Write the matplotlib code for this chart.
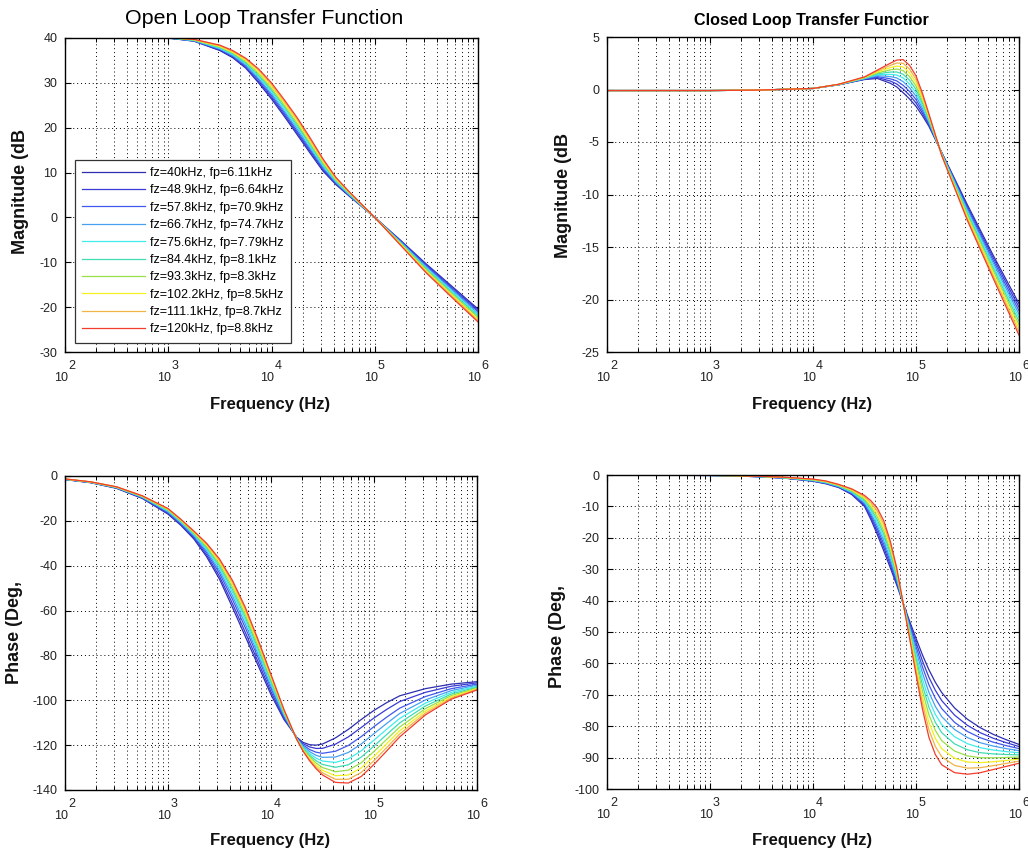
import numpy as np
import matplotlib.pyplot as plt
from matplotlib.ticker import LogLocator, NullFormatter

plt.rcParams['font.family'] = ['Liberation Sans', 'DejaVu Sans']
plt.rcParams['axes.unicode_minus'] = False

legend_labels = [
    "fz=40kHz, fp=6.11kHz",
    "fz=48.9kHz, fp=6.64kHz",
    "fz=57.8kHz, fp=70.9kHz",
    "fz=66.7kHz, fp=74.7kHz",
    "fz=75.6kHz, fp=7.79kHz",
    "fz=84.4kHz, fp=8.1kHz",
    "fz=93.3kHz, fp=8.3kHz",
    "fz=102.2kHz, fp=8.5kHz",
    "fz=111.1kHz, fp=8.7kHz",
    "fz=120kHz, fp=8.8kHz",
]
curve_colors = ['#2e2eb0', '#3a3ad6', '#4058ee', '#48a0f2', '#40ecec',
                '#40dcb4', '#98e048', '#f2f020', '#f0b448', '#f23c2c']

# open loop magnitude (dB), one row per frequency (log10 Hz), one column per curve
ol_mag_logf = [2.0, 2.5, 3.0, 3.25, 3.5, 3.625, 3.75, 3.875, 4.0, 4.125, 4.25,
               4.375, 4.5, 4.625, 4.75, 4.875, 5.0, 5.25, 5.5, 5.75, 6.0]
ol_mag = [
    [40.3, 40.3, 40.3, 40.3, 40.3, 40.3, 40.3, 40.3, 40.3, 40.3],
    [40.3, 40.3, 40.3, 40.3, 40.3, 40.3, 40.3, 40.3, 40.3, 40.3],
    [40.0, 40.0, 40.0, 40.0, 40.0, 40.1, 40.1, 40.1, 40.1, 40.1],
    [39.3, 39.3, 39.4, 39.4, 39.5, 39.5, 39.6, 39.6, 39.7, 39.7],
    [37.2, 37.3, 37.5, 37.6, 37.7, 37.9, 38.0, 38.1, 38.3, 38.4],
    [35.6, 35.8, 36.0, 36.1, 36.3, 36.5, 36.7, 36.8, 37.0, 37.2],
    [33.3, 33.5, 33.8, 34.0, 34.3, 34.5, 34.8, 35.0, 35.3, 35.5],
    [30.0, 30.3, 30.7, 31.0, 31.4, 31.7, 32.1, 32.4, 32.8, 33.1],
    [26.4, 26.8, 27.2, 27.6, 28.0, 28.4, 28.8, 29.2, 29.6, 30.0],
    [22.5, 22.9, 23.3, 23.7, 24.1, 24.6, 25.0, 25.4, 25.8, 26.2],
    [18.4, 18.8, 19.2, 19.7, 20.1, 20.5, 20.9, 21.4, 21.8, 22.2],
    [14.3, 14.7, 15.1, 15.4, 15.8, 16.2, 16.6, 16.9, 17.3, 17.7],
    [10.3, 10.6, 10.9, 11.2, 11.5, 11.8, 12.1, 12.4, 12.7, 13.0],
    [7.3, 7.5, 7.7, 7.8, 8.0, 8.2, 8.4, 8.5, 8.7, 8.9],
    [4.8, 4.9, 5.0, 5.1, 5.2, 5.4, 5.5, 5.6, 5.7, 5.8],
    [2.4, 2.5, 2.5, 2.6, 2.6, 2.7, 2.7, 2.8, 2.8, 2.9],
    [0.0, 0.0, 0.0, 0.0, 0.0, 0.0, 0.0, 0.0, 0.0, 0.0],
    [-5.1, -5.2, -5.3, -5.5, -5.6, -5.7, -5.8, -5.9, -6.1, -6.2],
    [-10.4, -10.6, -10.8, -11.1, -11.3, -11.5, -11.7, -12.0, -12.2, -12.4],
    [-15.4, -15.7, -16.0, -16.2, -16.5, -16.8, -17.1, -17.3, -17.6, -17.9],
    [-20.4, -20.7, -21.0, -21.4, -21.7, -22.0, -22.3, -22.7, -23.0, -23.3],
]

# closed loop magnitude (dB)
cl_mag_logf = [2.0, 3.0, 3.5, 4.0, 4.25, 4.5, 4.625, 4.75, 4.8125, 4.875, 4.9375,
               5.0, 5.0625, 5.125, 5.25, 5.5, 5.75, 6.0]
cl_mag = [
    [-0.1, -0.1, -0.1, -0.1, -0.1, -0.1, -0.1, -0.1, -0.1, -0.1],
    [-0.1, -0.1, -0.1, -0.1, -0.1, -0.1, -0.1, -0.1, -0.1, -0.1],
    [-0.05, -0.05, -0.05, -0.05, -0.05, -0.05, -0.05, -0.05, -0.05, -0.05],
    [0.1, 0.1, 0.1, 0.1, 0.1, 0.1, 0.1, 0.1, 0.1, 0.1],
    [0.45, 0.45, 0.46, 0.47, 0.47, 0.48, 0.48, 0.49, 0.49, 0.50],
    [0.95, 0.98, 1.01, 1.03, 1.06, 1.09, 1.12, 1.14, 1.17, 1.20],
    [1.05, 1.14, 1.23, 1.32, 1.41, 1.49, 1.58, 1.67, 1.76, 1.85],
    [0.60, 0.81, 1.02, 1.23, 1.44, 1.66, 1.87, 2.08, 2.29, 2.50],
    [0.25, 0.53, 0.82, 1.10, 1.38, 1.67, 1.95, 2.23, 2.52, 2.80],
    [-0.30, 0.05, 0.40, 0.75, 1.10, 1.45, 1.80, 2.15, 2.50, 2.85],
    [-0.90, -0.54, -0.19, 0.17, 0.52, 0.88, 1.23, 1.59, 1.94, 2.30],
    [-1.60, -1.28, -0.96, -0.63, -0.31, 0.01, 0.33, 0.66, 0.98, 1.30],
    [-2.50, -2.26, -2.02, -1.78, -1.54, -1.31, -1.07, -0.83, -0.59, -0.35],
    [-3.50, -3.37, -3.23, -3.10, -2.97, -2.83, -2.70, -2.57, -2.43, -2.30],
    [-6.00, -6.03, -6.07, -6.10, -6.13, -6.17, -6.20, -6.23, -6.27, -6.30],
    [-11.00, -11.17, -11.33, -11.50, -11.67, -11.83, -12.00, -12.17, -12.33, -12.50],
    [-15.80, -16.04, -16.29, -16.53, -16.78, -17.02, -17.27, -17.51, -17.76, -18.00],
    [-20.40, -20.73, -21.07, -21.40, -21.73, -22.07, -22.40, -22.73, -23.07, -23.40],
]

# open loop phase (deg)
ol_ph_logf = [2.0, 2.25, 2.5, 2.75, 3.0, 3.125, 3.25, 3.375, 3.5, 3.625, 3.75, 3.875,
              4.0, 4.125, 4.25, 4.3125, 4.375, 4.4375, 4.5, 4.625, 4.75, 4.875, 5.0,
              5.125, 5.25, 5.5, 5.75, 6.0]
ol_ph = [
    [-1.60, -1.56, -1.51, -1.47, -1.44, -1.40, -1.37, -1.35, -1.32, -1.30],
    [-3.00, -2.94, -2.88, -2.83, -2.78, -2.74, -2.70, -2.66, -2.63, -2.60],
    [-5.50, -5.40, -5.29, -5.20, -5.12, -5.04, -4.97, -4.91, -4.85, -4.80],
    [-10.00, -9.83, -9.64, -9.48, -9.34, -9.21, -9.09, -8.98, -8.88, -8.80],
    [-17.00, -16.65, -16.25, -15.93, -15.63, -15.35, -15.10, -14.88, -14.68, -14.50],
    [-22.00, -21.62, -21.19, -20.84, -20.52, -20.22, -19.95, -19.71, -19.49, -19.30],
    [-28.00, -27.51, -26.95, -26.50, -26.08, -25.69, -25.34, -25.03, -24.75, -24.50],
    [-36.00, -35.16, -34.20, -33.42, -32.70, -32.04, -31.44, -30.90, -30.42, -30.00],
    [-46.00, -44.74, -43.30, -42.13, -41.05, -40.06, -39.16, -38.35, -37.63, -37.00],
    [-58.50, -56.82, -54.90, -53.34, -51.90, -50.58, -49.38, -48.30, -47.34, -46.50],
    [-71.50, -69.68, -67.60, -65.91, -64.35, -62.92, -61.62, -60.45, -59.41, -58.50],
    [-84.50, -82.89, -81.05, -79.56, -78.18, -76.91, -75.76, -74.73, -73.81, -73.00],
    [-97.50, -96.24, -94.80, -93.63, -92.55, -91.56, -90.66, -89.85, -89.13, -88.50],
    [-108.50, -107.87, -107.15, -106.57, -106.03, -105.53, -105.08, -104.68, -104.32, -104.00],
    [-116.50, -116.64, -116.80, -116.93, -117.05, -117.16, -117.26, -117.35, -117.43, -117.50],
    [-118.80, -119.36, -120.00, -120.52, -121.00, -121.44, -121.84, -122.20, -122.52, -122.80],
    [-119.80, -120.81, -121.96, -122.90, -123.76, -124.55, -125.27, -125.92, -126.50, -127.00],
    [-120.00, -121.47, -123.15, -124.52, -125.78, -126.93, -127.98, -128.93, -129.77, -130.50],
    [-119.50, -121.43, -123.64, -125.43, -127.09, -128.61, -129.99, -131.23, -132.33, -133.30],
    [-116.80, -119.57, -122.74, -125.31, -127.69, -129.87, -131.85, -133.63, -135.21, -136.60],
    [-113.00, -116.35, -120.17, -123.28, -126.15, -128.77, -131.16, -133.32, -135.23, -136.90],
    [-108.60, -112.16, -116.22, -119.52, -122.57, -125.36, -127.90, -130.19, -132.22, -134.00],
    [-104.50, -107.87, -111.73, -114.86, -117.76, -120.41, -122.82, -124.99, -126.91, -128.60],
    [-101.00, -104.01, -107.45, -110.25, -112.83, -115.19, -117.34, -119.28, -121.00, -122.50],
    [-98.00, -100.56, -103.49, -105.87, -108.07, -110.08, -111.91, -113.56, -115.02, -116.30],
    [-94.80, -96.44, -98.31, -99.83, -101.24, -102.52, -103.69, -104.75, -105.68, -106.50],
    [-92.80, -93.74, -94.81, -95.68, -96.49, -97.22, -97.89, -98.50, -99.03, -99.50],
    [-91.70, -92.22, -92.81, -93.29, -93.74, -94.14, -94.51, -94.85, -95.14, -95.40],
]

# closed loop phase (deg)
cl_ph_logf = [2.0, 3.0, 3.25, 3.5, 3.75, 4.0, 4.125, 4.25, 4.375, 4.5, 4.5625, 4.625,
              4.6875, 4.75, 4.8125, 4.875, 4.9375, 5.0, 5.0625, 5.125, 5.1875, 5.25,
              5.375, 5.5, 5.625, 5.75, 5.875, 6.0]
cl_ph = [
    [-0.02, -0.02, -0.02, -0.02, -0.02, -0.02, -0.02, -0.02, -0.02, -0.02],
    [-0.15, -0.14, -0.14, -0.13, -0.13, -0.12, -0.12, -0.11, -0.11, -0.10],
    [-0.30, -0.29, -0.28, -0.27, -0.26, -0.24, -0.23, -0.22, -0.21, -0.20],
    [-0.60, -0.58, -0.56, -0.53, -0.51, -0.49, -0.47, -0.44, -0.42, -0.40],
    [-1.10, -1.06, -1.02, -0.98, -0.94, -0.91, -0.87, -0.83, -0.79, -0.75],
    [-2.00, -1.92, -1.84, -1.77, -1.69, -1.61, -1.53, -1.46, -1.38, -1.30],
    [-2.80, -2.70, -2.60, -2.50, -2.40, -2.30, -2.20, -2.10, -2.00, -1.90],
    [-4.00, -3.89, -3.78, -3.67, -3.56, -3.44, -3.33, -3.22, -3.11, -3.00],
    [-6.20, -6.00, -5.80, -5.60, -5.40, -5.20, -5.00, -4.80, -4.60, -4.40],
    [-10.00, -9.61, -9.22, -8.83, -8.44, -8.06, -7.67, -7.28, -6.89, -6.50],
    [-14.20, -13.53, -12.87, -12.20, -11.53, -10.87, -10.20, -9.53, -8.87, -8.20],
    [-19.00, -18.07, -17.13, -16.20, -15.27, -14.33, -13.40, -12.47, -11.53, -10.60],
    [-24.20, -23.13, -22.07, -21.00, -19.93, -18.87, -17.80, -16.73, -15.67, -14.60],
    [-29.50, -28.56, -27.61, -26.67, -25.72, -24.78, -23.83, -22.89, -21.94, -21.00],
    [-35.00, -34.39, -33.78, -33.17, -32.56, -31.94, -31.33, -30.72, -30.11, -29.50],
    [-40.80, -40.80, -40.80, -40.80, -40.80, -40.80, -40.80, -40.80, -40.80, -40.80],
    [-46.50, -47.11, -47.72, -48.33, -48.94, -49.56, -50.17, -50.78, -51.39, -52.00],
    [-52.00, -53.28, -54.56, -55.83, -57.11, -58.39, -59.67, -60.94, -62.22, -63.50],
    [-57.30, -59.21, -61.12, -63.03, -64.94, -66.86, -68.77, -70.68, -72.59, -74.50],
    [-62.00, -64.39, -66.78, -69.17, -71.56, -73.94, -76.33, -78.72, -81.11, -83.50],
    [-66.00, -68.56, -71.11, -73.67, -76.22, -78.78, -81.33, -83.89, -86.44, -89.00],
    [-69.30, -71.86, -74.41, -76.97, -79.52, -82.08, -84.63, -87.19, -89.74, -92.30],
    [-74.20, -76.49, -78.78, -81.07, -83.36, -85.64, -87.93, -90.22, -92.51, -94.80],
    [-77.80, -79.74, -81.69, -83.63, -85.58, -87.52, -89.47, -91.41, -93.36, -95.30],
    [-80.50, -82.09, -83.68, -85.27, -86.86, -88.44, -90.03, -91.62, -93.21, -94.80],
    [-82.60, -83.84, -85.09, -86.33, -87.58, -88.82, -90.07, -91.31, -92.56, -93.80],
    [-84.30, -85.24, -86.19, -87.13, -88.08, -89.02, -89.97, -90.91, -91.86, -92.80],
    [-85.80, -86.47, -87.13, -87.80, -88.47, -89.13, -89.80, -90.47, -91.13, -91.80],
]

W, H = 1028, 856
GRID = dict(color='k', linestyle=(0, (1, 3)), linewidth=0.7)


def px_rect(x0, y0, x1, y1):
    return [x0 / W, 1 - y1 / H, (x1 - x0) / W, (y1 - y0) / H]


def draw_panel(ax, logf, table, ylim, yticks):
    freqs = 10.0 ** np.array(logf)
    values = np.array(table).T
    lines = []
    for row, color in zip(values, curve_colors):
        ln, = ax.plot(freqs, row, color=color, linewidth=0.9)
        lines.append(ln)

    ax.set_xscale('log')
    ax.set_xlim(1e2, 1e6)
    ax.set_ylim(*ylim)
    ax.set_yticks(yticks)
    ax.xaxis.set_major_locator(LogLocator(base=10, numticks=10))
    ax.xaxis.set_minor_locator(LogLocator(base=10, subs=np.arange(2, 10), numticks=100))
    ax.xaxis.set_major_formatter(NullFormatter())
    ax.xaxis.set_minor_formatter(NullFormatter())
    ax.tick_params(which='both', direction='in', top=True, right=True,
                   labelsize=9, labelcolor='#222222', pad=5.5)
    ax.tick_params(which='major', length=4.5, width=0.8)
    ax.tick_params(which='minor', length=3, width=0.7)
    ax.grid(True, which='both', axis='x', **GRID)
    ax.grid(True, which='major', axis='y', **GRID)
    for sp in ax.spines.values():
        sp.set_linewidth(1.0)

    # MATLAB style 10^n labels
    for e in range(2, 7):
        ax.annotate('10', xy=(10.0 ** e, 0), xycoords=('data', 'axes fraction'),
                    xytext=(-4, -29), textcoords='offset pixels', ha='center',
                    va='baseline', fontsize=9, color='#222222', annotation_clip=False)
        ax.annotate(str(e), xy=(10.0 ** e, 0), xycoords=('data', 'axes fraction'),
                    xytext=(3, -17), textcoords='offset pixels', ha='left',
                    va='baseline', fontsize=9, color='#222222', annotation_clip=False)
    return lines


fig = plt.figure(figsize=(W / 100, H / 100), dpi=100)
ax_olm = fig.add_axes(px_rect(65, 38, 478, 352))
ax_clm = fig.add_axes(px_rect(607, 37, 1019, 352))
ax_olp = fig.add_axes(px_rect(65, 476, 477, 790))
ax_clp = fig.add_axes(px_rect(607, 475, 1019, 789))

lines = draw_panel(ax_olm, ol_mag_logf, ol_mag, (-30, 40), np.arange(-30, 41, 10))
draw_panel(ax_clm, cl_mag_logf, cl_mag, (-25, 5), np.arange(-25, 6, 5))
draw_panel(ax_olp, ol_ph_logf, ol_ph, (-140, 0), np.arange(-140, 1, 20))
draw_panel(ax_clp, cl_ph_logf, cl_ph, (-100, 0), np.arange(-100, 1, 10))

leg = ax_olm.legend(lines, legend_labels, loc='lower left', bbox_to_anchor=(0.024, 0.029),
                    borderaxespad=0, fontsize=9, fancybox=False, framealpha=1,
                    edgecolor='#333333', handlelength=5.0, handletextpad=0.4,
                    labelspacing=0.43, borderpad=0.6)
leg.get_frame().set_linewidth(0.9)

fig.text(264 / W, 1 - 18 / H, 'Open Loop Transfer Function', ha='center', va='center',
         fontsize=15.4)
fig.text(811 / W, 1 - 21 / H, 'Closed Loop Transfer Functior', ha='center', va='center',
         fontsize=11.6, fontweight='bold')

label_kw = dict(fontweight='bold', color='#111111')
for x in (270, 812):
    fig.text(x / W, 1 - 404 / H, 'Frequency (Hz)', ha='center', va='center', fontsize=12, **label_kw)
    fig.text(x / W, 1 - 841 / H, 'Frequency (Hz)', ha='center', va='center', fontsize=12, **label_kw)
fig.text(21 / W, 1 - 192 / H, 'Magnitude (dB', rotation=90, ha='center', va='center',
         fontsize=13, **label_kw)
fig.text(563 / W, 1 - 195 / H, 'Magnitude (dB', rotation=90, ha='center', va='center',
         fontsize=13, **label_kw)
fig.text(15 / W, 1 - 633 / H, 'Phase (Deg,', rotation=90, ha='center', va='center',
         fontsize=13, **label_kw)
fig.text(557 / W, 1 - 637 / H, 'Phase (Deg,', rotation=90, ha='center', va='center',
         fontsize=13, **label_kw)

fig.savefig('out.png', dpi=100)
